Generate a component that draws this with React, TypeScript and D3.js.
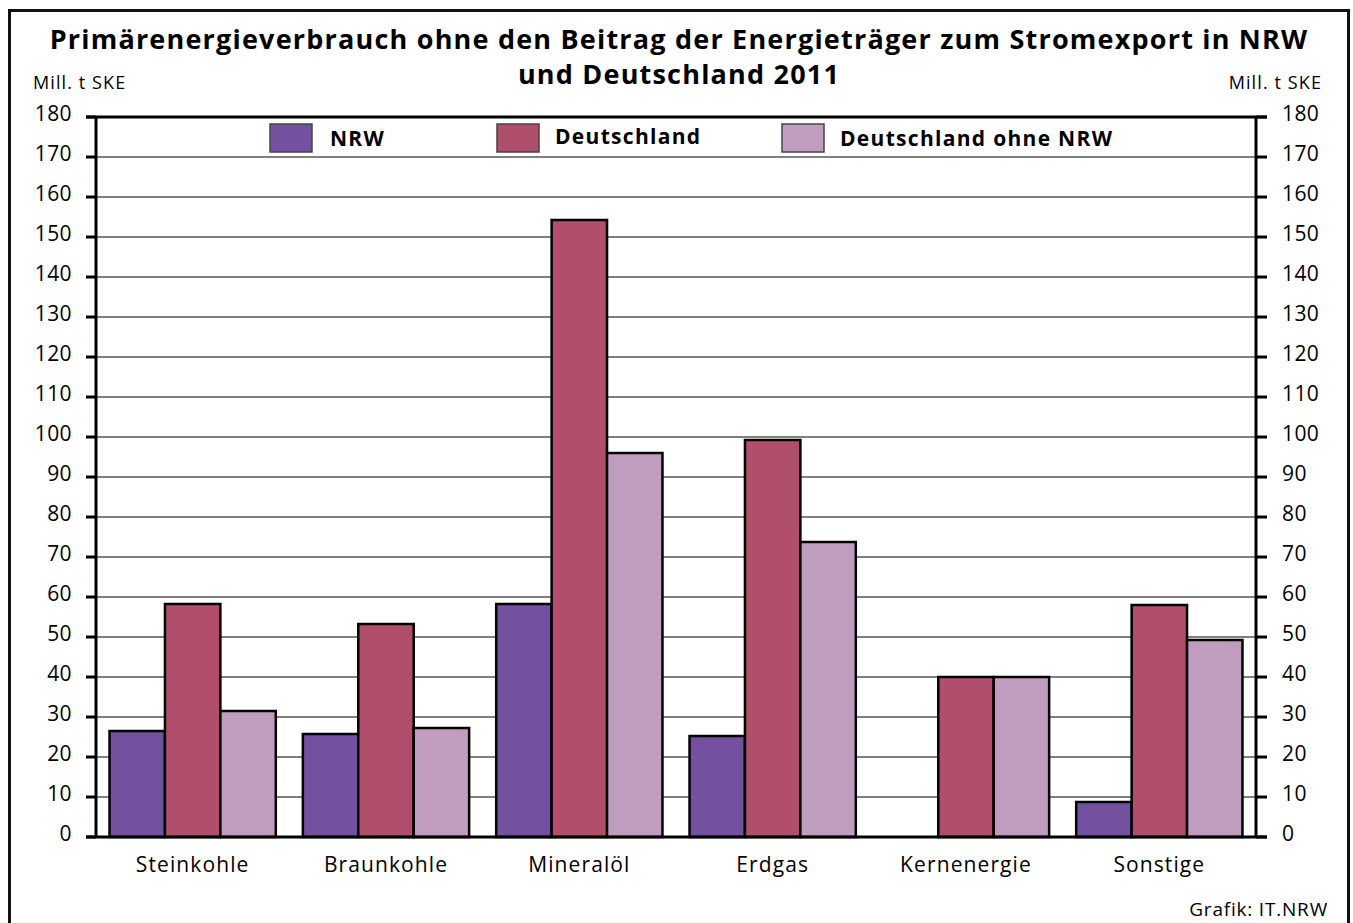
import React from "react";
import * as d3 from "d3";

const categories = ["Steinkohle", "Braunkohle", "Mineralöl", "Erdgas", "Kernenergie", "Sonstige"];
const seriesNames = ["NRW", "Deutschland", "Deutschland ohne NRW"];
const nrw = [26.5, 25.75, 58.25, 25.25, 0, 8.75];
const deutschland = [58.25, 53.25, 154.25, 99.25, 40, 58];
const ohneNrw = [31.5, 27.25, 96, 73.75, 40, 49.25];
const yTicks = [0, 10, 20, 30, 40, 50, 60, 70, 80, 90, 100, 110, 120, 130, 140, 150, 160, 170, 180];
const colors = ["#7450a0", "#b04e6c", "#c09dbe"];

const W = 1353;
const H = 923;
const margin = { top: 117, right: 97, bottom: 86, left: 96 };
const FONT = "'Open Sans', 'Noto Sans', sans-serif";

const App = () => {
  const values = [nrw, deutschland, ohneNrw];

  const x = d3
    .scaleBand()
    .domain(categories)
    .range([margin.left, W - margin.right])
    .paddingInner(0.14)
    .paddingOuter(0.07);
  const xs = d3.scaleBand().domain(seriesNames).range([0, x.bandwidth()]);
  const y = d3
    .scaleLinear()
    .domain([0, 180])
    .range([H - margin.bottom, margin.top]);

  const x0 = margin.left;
  const x1 = W - margin.right;

  // legend positions
  const legend = [
    { box: 270, text: 330, base: 146 },
    { box: 497, text: 555, base: 144 },
    { box: 782, text: 840, base: 146 },
  ];

  return (
    <svg width={W} height={H} style={{ position: "absolute", left: 0, top: 0 }} fontFamily={FONT}>
      <rect x={0} y={0} width={W} height={H} fill="#fff" />
      <rect x={9.5} y={10.5} width={1339} height={930} fill="none" stroke="#111" strokeWidth={3} />

      <text x={679} y={49} textAnchor="middle" fontSize={27} fontWeight="bold" letterSpacing={1.2} fill="#000">
        Primärenergieverbrauch ohne den Beitrag der Energieträger zum Stromexport in NRW
      </text>
      <text x={679} y={84} textAnchor="middle" fontSize={27} fontWeight="bold" letterSpacing={1.2} fill="#000">
        und Deutschland 2011
      </text>
      <text x={33} y={89} fontSize={18} letterSpacing={1.1} fill="#000">Mill. t SKE</text>
      <text x={1322} y={89} fontSize={18} letterSpacing={1.1} textAnchor="end" fill="#000">Mill. t SKE</text>

      {/* gridlines */}
      {yTicks.map((t) => (
        <line key={"g" + t} x1={x0} x2={x1} y1={y(t)} y2={y(t)} stroke="#000" strokeWidth={1.2} />
      ))}

      {/* ticks + labels */}
      {yTicks.map((t) => (
        <g key={"t" + t}>
          <line x1={x0 - 10} x2={x0} y1={y(t)} y2={y(t)} stroke="#000" strokeWidth={3} />
          <line x1={x1} x2={x1 + 11} y1={y(t)} y2={y(t)} stroke="#000" strokeWidth={3} />
          <text x={72} y={y(t) + 4} textAnchor="end" fontSize={21} letterSpacing={0.4} fill="#000">{t}</text>
          <text x={1282} y={y(t) + 4} fontSize={21} letterSpacing={0.4} fill="#000">{t}</text>
        </g>
      ))}

      {/* legend */}
      {seriesNames.map((s, i) => (
        <g key={s}>
          <rect x={legend[i].box} y={124} width={42} height={28} fill={colors[i]} stroke="#444" strokeWidth={1.5} />
          <text x={legend[i].text} y={legend[i].base} fontSize={21} fontWeight="bold" letterSpacing={1.3} fill="#000">{s}</text>
        </g>
      ))}

      {/* bars */}
      {categories.map((c, ci) => (
        <g key={c} transform={`translate(${x(c)},0)`}>
          {values.map((vals, si) =>
            vals[ci] > 0 ? (
              <rect
                key={si}
                x={xs(seriesNames[si])}
                y={y(vals[ci])}
                width={xs.bandwidth()}
                height={y(0) - y(vals[ci])}
                fill={colors[si]}
                stroke="#000"
                strokeWidth={2.5}
              />
            ) : null
          )}
          <text x={x.bandwidth() / 2} y={872} textAnchor="middle" fontSize={21} letterSpacing={1.1} fill="#000">{c}</text>
        </g>
      ))}

      {/* frame */}
      <line x1={x0} x2={x0} y1={margin.top} y2={y(0)} stroke="#000" strokeWidth={3} />
      <line x1={x1} x2={x1} y1={margin.top} y2={y(0)} stroke="#000" strokeWidth={3} />
      <line x1={x0 - 10} x2={x1 + 11} y1={margin.top} y2={margin.top} stroke="#000" strokeWidth={3} />
      <line x1={x0 - 10} x2={x1 + 11} y1={y(0)} y2={y(0)} stroke="#000" strokeWidth={3} />

      <text x={1328} y={916} textAnchor="end" fontSize={19} letterSpacing={0.8} fill="#000">Grafik: IT.NRW</text>
    </svg>
  );
};

export default App;
